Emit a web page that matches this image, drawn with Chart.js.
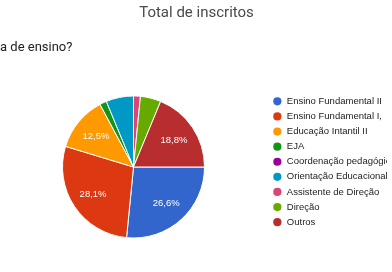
<!DOCTYPE html>
<html>
<head>
<meta charset="utf-8">
<script src="https://cdn.jsdelivr.net/npm/chart.js@4/dist/chart.umd.min.js"></script>
<style>
  html, body { margin: 0; padding: 0; background: #ffffff; }
  canvas { display: block; }
</style>
</head>
<body>
<canvas id="c" width="392" height="272"></canvas>
<script>
const chartTitle = 'Total de inscritos';
const questionText = 'a de ensino?';
const categories = [
  'Ensino Fundamental II',
  'Ensino Fundamental I,',
  'Educação Intantil II',
  'EJA',
  'Coordenação pedagógica',
  'Orientação Educacional',
  'Assistente de Direção',
  'Direção',
  'Outros'
];
const counts = [17, 18, 8, 1, 0, 4, 1, 3, 12];
const colors = ['#3366cc', '#dc3912', '#ff9900', '#109618', '#990099', '#0099c6', '#dd4477', '#66aa00', '#b82e2e'];

const total = counts.reduce((a, b) => a + b, 0);
const pctLabels = counts.map(v => (v / total * 100).toFixed(1).replace('.', ',') + '%');

const textPlugin = {
  id: 'texts',
  afterDatasetsDraw(chart) {
    const ctx = chart.ctx;
    const meta = chart.getDatasetMeta(0);
    ctx.save();
    ctx.fillStyle = '#ffffff';
    ctx.font = '9.5px "Liberation Sans", Arial, sans-serif';
    ctx.textAlign = 'center';
    ctx.textBaseline = 'middle';
    meta.data.forEach((arc, i) => {
      if (counts[i] / total < 0.08) return;
      const p = arc.getProps(['x', 'y', 'startAngle', 'endAngle', 'outerRadius'], true);
      const mid = (p.startAngle + p.endAngle) / 2;
      const r = p.outerRadius * 0.685;
      ctx.fillText(pctLabels[i], p.x + Math.cos(mid) * r, p.y + Math.sin(mid) * r);
    });
    ctx.restore();
  },
  afterDraw(chart) {
    const ctx = chart.ctx;
    ctx.save();
    ctx.textBaseline = 'alphabetic';
    ctx.textAlign = 'center';
    ctx.fillStyle = '#4a4a4a';
    ctx.font = '15px Roboto, "Liberation Sans", sans-serif';
    ctx.fillText(chartTitle, 196.5, 16.5);
    ctx.textAlign = 'left';
    ctx.fillStyle = '#202124';
    ctx.font = '13px Roboto, "Liberation Sans", sans-serif';
    ctx.fillText(questionText, 0, 50.5);
    ctx.restore();
  }
};

new Chart(document.getElementById('c'), {
  type: 'pie',
  data: {
    labels: categories,
    datasets: [{
      data: counts,
      backgroundColor: colors,
      borderColor: '#ffffff',
      borderWidth: 1
    }]
  },
  options: {
    responsive: false,
    animation: false,
    devicePixelRatio: 1,
    rotation: 90,
    radius: 71,
    layout: {
      padding: { left: -73, right: 5, top: 91, bottom: 29 }
    },
    plugins: {
      title: { display: false },
      tooltip: { enabled: false },
      legend: {
        display: true,
        position: 'right',
        align: 'start',
        maxWidth: 120,
        labels: {
          usePointStyle: true,
          pointStyle: 'circle',
          boxWidth: 9.5,
          boxHeight: 5.8,
          padding: 5.6,
          color: '#222222',
          font: { family: '"Liberation Sans", Arial, sans-serif', size: 9.5 },
          generateLabels(chart) {
            const items = Chart.overrides.pie.plugins.legend.labels.generateLabels(chart);
            items.forEach(it => { it.lineWidth = 0; it.strokeStyle = it.fillStyle; });
            return items;
          }
        }
      }
    }
  },
  plugins: [textPlugin]
});
</script>
</body>
</html>
